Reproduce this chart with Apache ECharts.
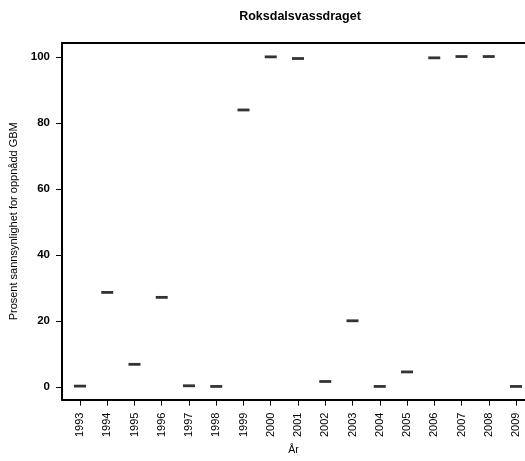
<!DOCTYPE html>
<html><head><meta charset="utf-8">
<script src="https://cdn.jsdelivr.net/npm/echarts@6/dist/echarts.min.js"></script>
<style>html,body{margin:0;padding:0;background:#fff}#c{width:525px;height:461px}</style>
</head><body><div id="c"></div>
<script>
const years = [1993,1994,1995,1996,1997,1998,1999,2000,2001,2002,2003,2004,2005,2006,2007,2008,2009];
const values = [0.2,28.6,6.8,27.1,0.3,0.1,83.9,100,99.5,1.6,20,0.1,4.5,99.7,100.1,100.1,0.1];
const yTicks = [0,20,40,60,80,100];
const title = 'Roksdalsvassdraget';
const xName = 'År';
const yName = 'Prosent sannsynlighet for oppnådd GBM';

const chart = echarts.init(document.getElementById('c'), null, {renderer:'canvas'});
const font = '"Liberation Sans", Arial, sans-serif';
chart.setOption({
  animation:false,
  backgroundColor:'#fff',
  title:{text:title,left:295,top:5,textAlign:'center',textStyle:{fontFamily:font,fontSize:12.5,fontWeight:'bold',color:'#000'}},
  grid:{left:62,right:0,top:43,bottom:55},
  xAxis:[{
    type:'value',min:1992.34,max:2009.33,
    name:xName,nameLocation:'middle',nameGap:45,
    nameTextStyle:{fontFamily:font,fontSize:10.5,color:'#000'},
    axisLine:{show:true,onZero:false,lineStyle:{color:'#000',width:2}},
    axisTick:{show:true,length:6,lineStyle:{color:'#000',width:1},customValues:years},
    axisLabel:{rotate:90,fontFamily:font,fontSize:11,color:'#000',margin:13,customValues:years,formatter:v=>String(v)},
    splitLine:{show:false}
  },{
    type:'value',position:'top',min:1992.34,max:2009.33,
    axisLine:{show:true,onZero:false,lineStyle:{color:'#000',width:2}},
    axisTick:{show:false},axisLabel:{show:false},splitLine:{show:false}
  }],
  yAxis:{
    type:'value',min:-3.9,max:104.2,
    name:yName,nameLocation:'middle',nameGap:35,
    nameTextStyle:{fontFamily:font,fontSize:11,color:'#000'},
    axisLine:{show:true,onZero:false,lineStyle:{color:'#000',width:2}},
    axisTick:{show:true,length:6,lineStyle:{color:'#000',width:1},customValues:yTicks},
    axisLabel:{fontFamily:font,fontSize:11.5,fontWeight:'bold',color:'#000',margin:12,customValues:yTicks},
    splitLine:{show:false}
  },
  series:[{
    type:'scatter',
    data:years.map((y,i)=>[y,values[i]]),
    symbol:'rect',symbolSize:[12,2.8],
    itemStyle:{color:'#000'}
  }]
});
</script></body></html>
